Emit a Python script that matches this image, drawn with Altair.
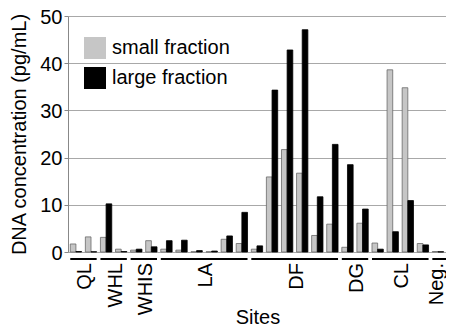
import altair as alt
import pandas as pd

sites = ["QL", "QL", "WHL", "WHL", "WHIS", "WHIS",
         "LA", "LA", "LA", "LA", "LA", "LA",
         "DF", "DF", "DF", "DF", "DF", "DF",
         "DG", "DG", "CL", "CL", "CL", "CL", "Neg.", "Neg."]
small_fraction = [1.7, 3.2, 3.1, 0.6, 0.4, 2.4,
                  0.6, 0.4, 0.05, 0.05, 2.7, 1.8,
                  0.6, 15.9, 21.7, 16.7, 3.5, 5.9,
                  1.0, 6.1, 1.9, 38.6, 34.8, 1.8, 0.1, 0.3]
large_fraction = [0.1, 0.05, 10.2, 0.1, 0.6, 1.1,
                  2.4, 2.5, 0.3, 0.2, 3.4, 8.4,
                  1.3, 34.3, 42.8, 47.1, 11.7, 22.8,
                  18.5, 9.1, 0.6, 4.3, 10.9, 1.5, 0.05, 0.1]
fractions = ["small fraction", "large fraction"]
colors = ["#c6c6c6", "#000000"]
strokes = ["#6a6a6a", "#000000"]
group_order = ["QL", "WHL", "WHIS", "LA", "DF", "DG", "CL", "Neg."]
x_title = "Sites"
y_title = "DNA concentration (pg/mL)"

sample_ids = [f"{s}-{i}" for i, s in enumerate(sites)]

rows = []
for sid, site, sv, lv in zip(sample_ids, sites, small_fraction, large_fraction):
    rows.append({"sample": sid, "site": site, "fraction": fractions[0], "value": sv})
    rows.append({"sample": sid, "site": site, "fraction": fractions[1], "value": lv})
bars_df = pd.DataFrame(rows)

grp_rows = []
for g in group_order:
    idx = [i for i, s in enumerate(sites) if s == g]
    grp_rows.append({"site": g, "first": sample_ids[idx[0]], "last": sample_ids[idx[-1]],
                     "mid": sample_ids[idx[0] + len(idx) // 2]})
groups_df = pd.DataFrame(grp_rows)
inner_groups = groups_df[groups_df["site"] != "Neg."]
edge_group = groups_df[groups_df["site"] == "Neg."]

xscale = alt.Scale(domain=sample_ids, range=[0, 393], paddingInner=0.25, paddingOuter=0.15)

bars = alt.Chart(bars_df).mark_bar(strokeWidth=0.8).encode(
    x=alt.X("sample:N", scale=xscale, title=None,
            axis=alt.Axis(labels=False, ticks=True, tickSize=3, tickColor="#888888",
                          domainColor="#888888", bandPosition=0, grid=False)),
    xOffset=alt.XOffset("fraction:N", sort=fractions, scale=alt.Scale(paddingInner=0)),
    y=alt.Y("value:Q", scale=alt.Scale(domain=[0, 50]),
            axis=alt.Axis(values=[0, 10, 20, 30, 40, 50], grid=True, gridColor="#a8a8a8",
                          domainColor="#888888", tickColor="#888888", tickSize=4,
                          labelFontSize=20, labelPadding=2, labelColor="black",
                          labelOffset=1,
                          title=y_title, titleFontSize=20,
                          titleFontWeight="normal", titlePadding=10)),
    color=alt.Color("fraction:N", sort=fractions,
                    scale=alt.Scale(domain=fractions, range=colors),
                    legend=alt.Legend(title=None, orient="none", legendX=16, legendY=21,
                                      symbolType="square", symbolSize=484,
                                      symbolStrokeWidth=0, labelFontSize=20,
                                      labelOffset=6, rowPadding=8, padding=0)),
    stroke=alt.Stroke("fraction:N", scale=alt.Scale(domain=fractions, range=strokes),
                      legend=None),
)

underlines = alt.Chart(groups_df).mark_rule(strokeWidth=2, color="black").encode(
    x=alt.X("first:N", scale=xscale, bandPosition=0, axis=None),
    x2=alt.X2("last:N", bandPosition=1),
    y=alt.value(243),
)

label_style = dict(angle=270, align="right", baseline="middle", fontSize=20, color="black")

labels = alt.Chart(inner_groups).mark_text(**label_style).encode(
    x=alt.X("mid:N", scale=xscale, bandPosition=0, axis=None),
    y=alt.value(247),
    text="site:N",
)

edge_label = alt.Chart(edge_group).mark_text(**label_style).encode(
    x=alt.X("first:N", scale=xscale, bandPosition=0.4, axis=None),
    y=alt.value(247),
    text="site:N",
)

xtitle = alt.Chart(pd.DataFrame({"t": [x_title]})).mark_text(
    fontSize=20, color="black", align="center", baseline="middle"
).encode(
    x=alt.value(190),
    y=alt.value(302),
    text="t:N",
)

chart = alt.layer(bars, underlines, labels, edge_label, xtitle).properties(
    width=378, height=236,
    autosize=alt.AutoSizeParams(type="none"),
    padding={"left": 60, "top": 8, "right": 0, "bottom": 76},
).configure(font="Liberation Sans").configure_view(stroke=None)

chart.save("out.html", embed_options={"renderer": "svg", "actions": False})
